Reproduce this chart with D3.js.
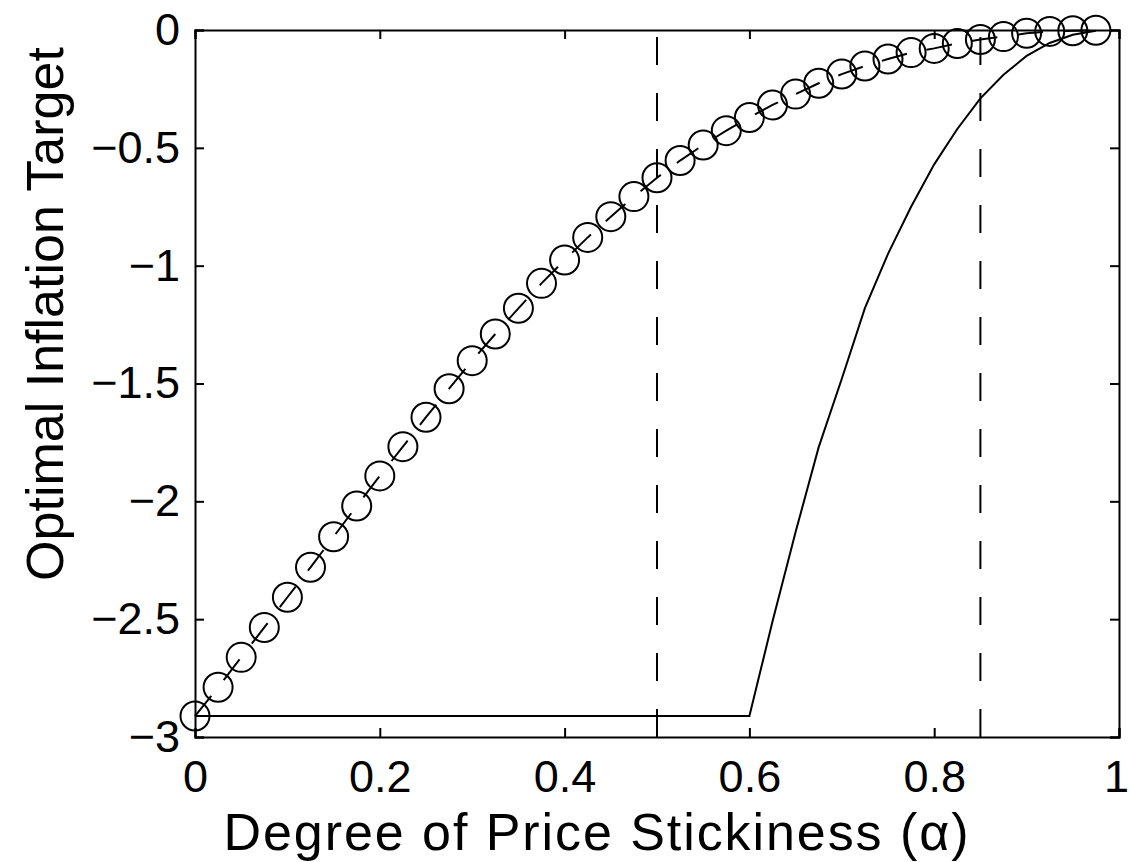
<!DOCTYPE html>
<html>
<head>
<meta charset="utf-8">
<script src="https://cdn.jsdelivr.net/npm/d3@7"></script>
<style>
body { margin: 0; background: #fff; }
text { font-family: "Liberation Sans", Arial, sans-serif; fill: #000; }
</style>
</head>
<body>
<svg id="plate" width="1130" height="862"></svg>
<script>
// alpha grid of the circle series
var alphaCircles = [0, 0.025, 0.05, 0.075, 0.1, 0.125, 0.15, 0.175, 0.2, 0.225,
    0.25, 0.275, 0.3, 0.325, 0.35, 0.375, 0.4, 0.425, 0.45, 0.475,
    0.5, 0.525, 0.55, 0.575, 0.6, 0.625, 0.65, 0.675, 0.7, 0.725,
    0.75, 0.775, 0.8, 0.825, 0.85, 0.875, 0.9, 0.925, 0.95, 0.975];
var targetCircles = [-2.911, -2.789, -2.662, -2.535, -2.407, -2.280, -2.150, -2.020, -1.892, -1.768,
    -1.643, -1.522, -1.403, -1.290, -1.181, -1.075, -0.976, -0.880, -0.792, -0.707,
    -0.627, -0.554, -0.488, -0.427, -0.371, -0.318, -0.272, -0.226, -0.187, -0.153,
    -0.123, -0.096, -0.078, -0.057, -0.040, -0.028, -0.014, -0.006, -0.003, -0.001];

// solid line
var alphaSolid = [0, 0.6, 0.625, 0.65, 0.675, 0.7, 0.725, 0.75, 0.775, 0.8,
    0.825, 0.85, 0.875, 0.9, 0.925, 0.95, 0.975];
var targetSolid = [-2.911, -2.911, -2.51, -2.13, -1.77, -1.48, -1.18, -0.95, -0.75, -0.57,
    -0.42, -0.29, -0.19, -0.11, -0.055, -0.02, -0.003];

// vertical dashed markers
var markers = [0.5, 0.85];

var xTicks = [0, 0.2, 0.4, 0.6, 0.8, 1];
var yTicks = [-3, -2.5, -2, -1.5, -1, -0.5, 0];

var margin = {top: 30, right: 11, bottom: 125, left: 195};
var width = 1130 - margin.left - margin.right;
var height = 862 - margin.top - margin.bottom;

var x = d3.scaleLinear().domain([0, 1]).range([0, width]);
var y = d3.scaleLinear().domain([-3, 0]).range([height, 0]);

var svg = d3.select('#plate')
    .append('g')
    .attr('transform', 'translate(' + margin.left + ',' + margin.top + ')');

var fmt = function(d) { return d3.format('~g')(d).replace('-', '\u2212'); };
var tickLen = 9;

// axes: ticks inside, box on all sides
var axB = svg.append('g').attr('class', 'axis')
    .attr('transform', 'translate(0,' + height + ')')
    .call(d3.axisBottom(x).tickValues(xTicks).tickSize(-tickLen).tickPadding(23).tickFormat(fmt));
var axT = svg.append('g').attr('class', 'axis')
    .call(d3.axisTop(x).tickValues(xTicks).tickSize(-tickLen).tickFormat(''));
var axL = svg.append('g').attr('class', 'axis')
    .call(d3.axisLeft(y).tickValues(yTicks).tickSize(-tickLen).tickPadding(15).tickFormat(fmt));
var axR = svg.append('g').attr('class', 'axis')
    .attr('transform', 'translate(' + width + ',0)')
    .call(d3.axisRight(y).tickValues(yTicks).tickSize(-tickLen).tickFormat(''));

svg.selectAll('.axis path').attr('stroke', '#000').attr('stroke-width', 2);
svg.selectAll('.axis line').attr('stroke', '#000').attr('stroke-width', 2);
svg.selectAll('.axis text')
    .style('font-family', '"Liberation Sans", Arial, sans-serif')
    .style('font-size', '45px')
    .attr('fill', '#000');
axB.selectAll('text').attr('dy', '0.71em');
// keep the last x label inside the page
axB.selectAll('text').filter((d) => d === 1).attr('x', -3);

// vertical dashed lines, drawn from bottom up
svg.selectAll('.marker')
    .data(markers)
    .enter().append('line')
    .attr('class', 'marker')
    .attr('x1', (d) => x(d)).attr('x2', (d) => x(d))
    .attr('y1', y(-3)).attr('y2', y(0))
    .attr('stroke', '#000')
    .attr('stroke-width', 2)
    .attr('stroke-dasharray', '28,28');

// solid line
var solid = alphaSolid.map((a, i) => ({a: a, v: targetSolid[i]}));
svg.append('path')
    .datum(solid)
    .attr('fill', 'none')
    .attr('stroke', '#000')
    .attr('stroke-width', 2)
    .attr('d', d3.line().x((d) => x(d.a)).y((d) => y(d.v)));

// circle series with dashed connector
var circ = alphaCircles.map((a, i) => ({a: a, v: targetCircles[i]}));
svg.append('path')
    .datum(circ)
    .attr('fill', 'none')
    .attr('stroke', '#000')
    .attr('stroke-width', 2)
    .attr('stroke-dasharray', '26,20')
    .attr('d', d3.line().x((d) => x(d.a)).y((d) => y(d.v)));

svg.selectAll('.pt')
    .data(circ)
    .enter().append('circle')
    .attr('class', 'pt')
    .attr('cx', (d) => x(d.a))
    .attr('cy', (d) => y(d.v))
    .attr('r', 14.5)
    .attr('fill', 'none')
    .attr('stroke', '#000')
    .attr('stroke-width', 2);

// axis labels
svg.append('text')
    .attr('x', 596 - margin.left)
    .attr('y', 850 - margin.top)
    .attr('text-anchor', 'middle')
    .attr('textLength', 745)
    .attr('lengthAdjust', 'spacing')
    .style('font-size', '52px')
    .html('Degree of Price Stickiness (&#945;)');

svg.append('text')
    .attr('transform', 'translate(' + (63 - margin.left) + ',' + (314 - margin.top) + ') rotate(-90)')
    .attr('text-anchor', 'middle')
    .style('font-size', '52px')
    .text('Optimal Inflation Target');
</script>
</body>
</html>
